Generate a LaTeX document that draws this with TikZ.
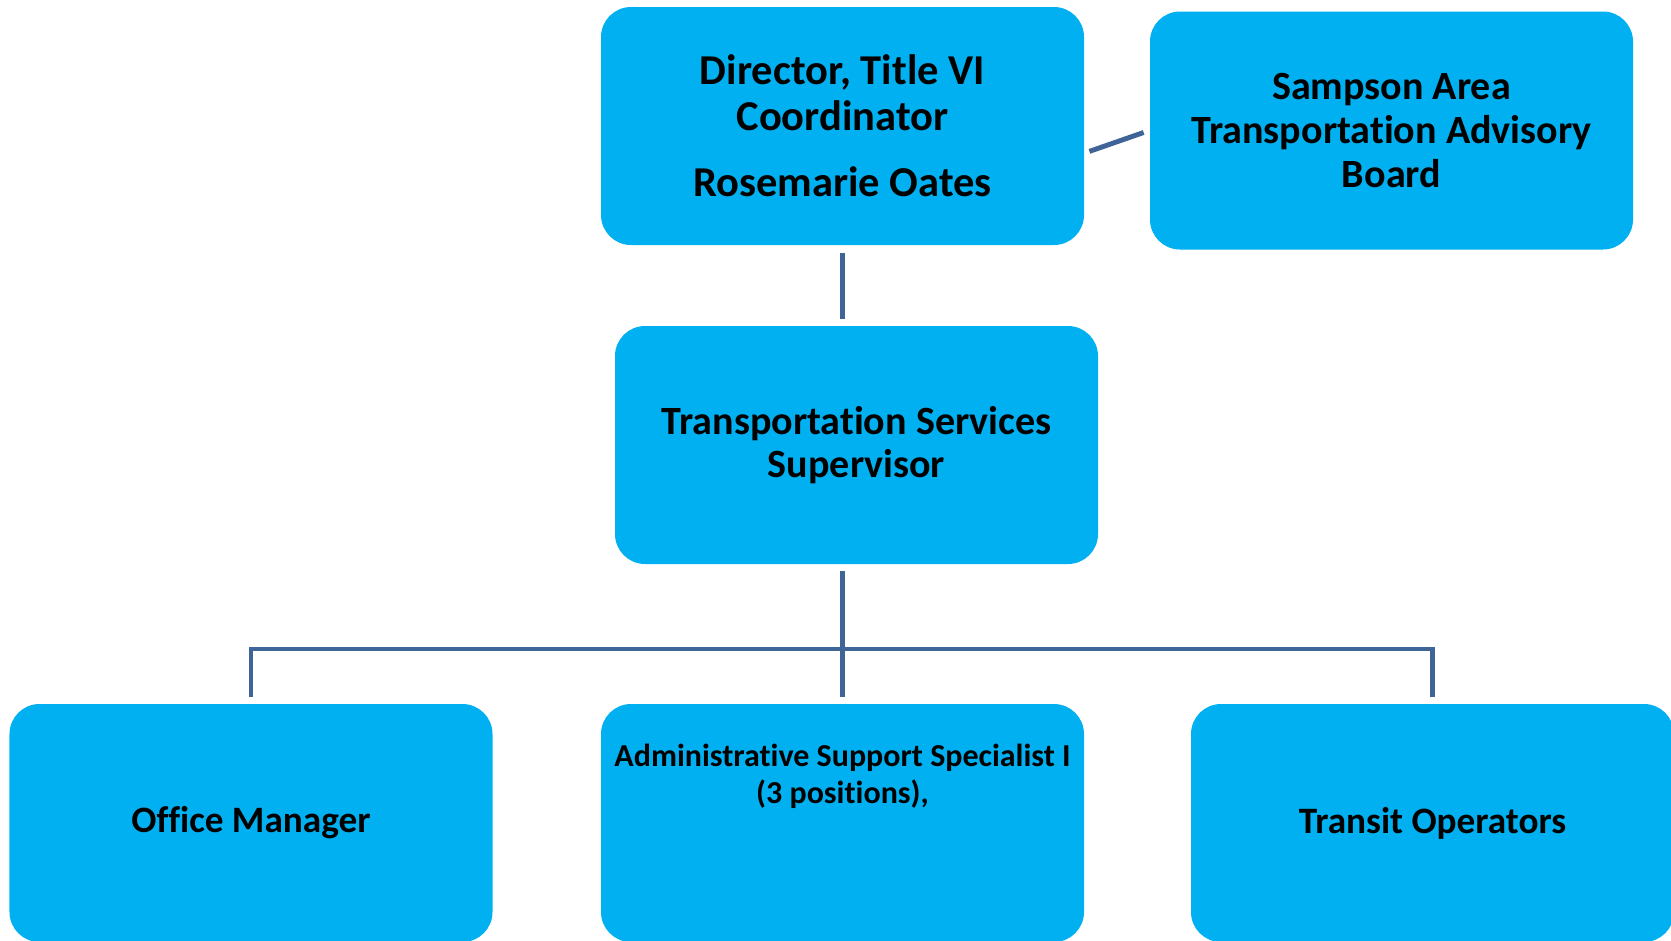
\documentclass[tikz,border=0pt]{standalone}
\usepackage{fontspec}
\setmainfont{Carlito}[Ligatures = NoCommon]
\usepackage{xcolor}
\usetikzlibrary{calc}
\definecolor{boxblue}{HTML}{00B0F0}
\definecolor{linkblue}{HTML}{3F6498}

\begin{document}
\begin{tikzpicture}[
	box/.style = {fill = boxblue, rounded corners = 0.3cm, inner sep = 0pt, align = center,
		minimum width = \W cm, minimum height = \H cm,
		font = \bfseries\fontsize{11.4}{12.4}\selectfont},
	link/.style = {draw = linkblue, line width = 1.4pt},
	]
	\def\W{4.83};
	\def\H{2.38};
	\def\gap{0.06};
	
	\useasboundingbox (0,0) rectangle (16.71,-9.40);
	
	\node [box, font = \bfseries\fontsize{12.1}{13.1}\selectfont] (director) at (8.425,-1.26) {Director, Title VI\\Coordinator\\[5.7pt]Rosemarie Oates};
	\node [box] (sampson) at (13.915,-1.305) {Sampson Area\\Transportation Advisory\\Board};
	\node [box] (supervisor) at (8.565,-4.45) {Transportation Services\\Supervisor};
	
	\node [box, font = \bfseries\fontsize{10.6}{12}\selectfont] (office) at (2.51,-8.23) {Office Manager};
	\node [box, text height = 0.99cm, text depth = 1.39cm, font = \bfseries\fontsize{9.1}{10.3}\selectfont]
		(admin) at (8.425,-8.23) {Administrative Support Specialist I\\(3 positions),};
	\node [box, font = \bfseries\fontsize{10.6}{12}\selectfont] (transit) at (14.325,-8.23) {Transit Operators};
	
	\coordinate (bus) at (0,-6.49);
	
	\draw [link, shorten <= 0.07cm, shorten >= \gap cm] (director.south) -- (director.south |- supervisor.north);
	\draw [link, shorten <= 0.05cm, shorten >= \gap cm] ([yshift = -0.27cm]director.east) -- (sampson.west);
	
	\draw [link, shorten <= \gap cm, shorten >= \gap cm] (admin.north |- supervisor.south) -- (admin.north);
	\draw [link, shorten <= \gap cm, shorten >= \gap cm] (office.north) -- (office.north |- bus) -- (transit.north |- bus) -- (transit.north);
\end{tikzpicture}
\end{document}
